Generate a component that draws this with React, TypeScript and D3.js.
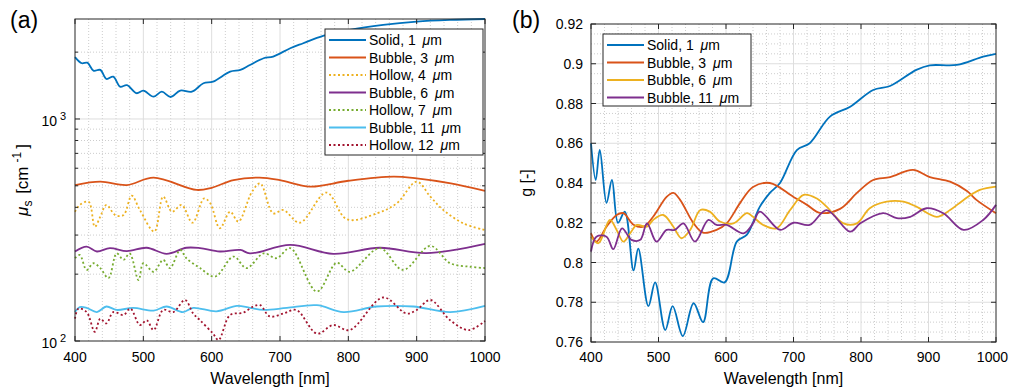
import React from 'react';
import * as d3 from 'd3';

type P = [number, number];

// ---------- data (panel a: scattering coefficient, cm^-1) ----------
const muSolid1: P[] = [[400,1900],[410,1782],[418,1793],[427,1651],[437,1663],[446,1514],[456,1551],[466,1398],[476,1419],[490,1306],[500,1342],[515,1260],[527,1327],[540,1256],[554,1342],[571,1327],[588,1448],[602,1472],[627,1633],[642,1663],[656,1751],[676,1877],[690,1909],[715,2083],[734,2193],[763,2365],[802,2518],[851,2651],[900,2743],[949,2792],[1000,2820]];
const muBubble3: P[] = [[400,504],[437,522],[476,504],[515,544],[578,479],[600,490],[632,531],[670,544],[700,530],[744,496],[800,527],[866,550],[900,540],[950,513],[1000,475]];
const muHollow4: P[] = [[400,382],[407,410],[420,424],[429,327],[437,363],[446,410],[459,369],[471,369],[483,451],[495,389],[516,311],[529,447],[542,382],[556,410],[572,341],[589,439],[598,417],[612,322],[627,382],[639,345],[659,470],[671,513],[690,376],[705,389],[729,341],[768,466],[798,353],[842,376],[871,417],[900,522],[920,447],[939,389],[968,339],[1000,316]];
const muBubble6: P[] = [[400,253],[417,266],[432,253],[451,262],[476,254],[505,263],[534,247],[563,263],[583,262],[612,253],[642,257],[656,248],[715,271],[778,247],[846,263],[914,249],[1000,274]];
const muHollow7: P[] = [[400,236],[407,244],[417,209],[427,224],[437,213],[449,192],[461,248],[471,232],[480,248],[493,188],[500,224],[515,205],[529,232],[539,213],[554,257],[563,236],[583,213],[605,195],[632,240],[651,213],[676,248],[695,236],[715,262],[754,167],[783,225],[802,205],[846,262],[880,209],[920,268],[949,224],[978,216],[1000,213]];
const muBubble11: P[] = [[400,135],[407,142],[417,141],[432,135],[446,143],[461,138],[485,141],[515,137],[534,143],[558,135],[573,141],[607,136],[637,144],[656,141],[676,138],[710,141],[754,145],[793,135],[841,143],[895,143],[949,135],[1000,144]];
const muHollow12: P[] = [[400,126],[405,140],[417,135],[429,110],[437,126],[446,120],[456,135],[471,131],[481,140],[495,118],[505,124],[515,112],[529,138],[544,135],[561,153],[573,133],[583,124],[602,108],[610,101],[627,131],[646,134],[661,143],[671,145],[685,129],[705,133],[724,138],[754,108],[778,118],[802,112],[851,157],[885,133],[900,138],[920,153],[949,124],[976,112],[1000,123]];

// ---------- data (panel b: anisotropy g) ----------
const gSolid1: P[] = [[400,0.86],[407,0.8415],[413,0.8566],[423,0.83],[431,0.8415],[440,0.82],[450,0.8256],[463,0.796],[470,0.807],[485,0.778],[495,0.79],[510,0.766],[521,0.778],[536,0.763],[552,0.7795],[566,0.77],[581,0.792],[598,0.79],[616,0.8105],[631,0.814],[650,0.828],[665,0.835],[680,0.84],[705,0.8566],[724,0.86],[754,0.8734],[784,0.8784],[818,0.8868],[843,0.8888],[882,0.8969],[902,0.8992],[942,0.8994],[981,0.9036],[1000,0.905]];
const gBubble3: P[] = [[400,0.8147],[408,0.8105],[423,0.818],[438,0.8239],[448,0.8248],[463,0.819],[478,0.818],[492,0.823],[512,0.833],[522,0.835],[532,0.8315],[552,0.8197],[566,0.815],[586,0.8164],[601,0.8197],[621,0.83],[640,0.838],[665,0.84],[700,0.833],[720,0.829],[739,0.825],[769,0.827],[794,0.835],[818,0.8415],[843,0.843],[877,0.8466],[902,0.843],[932,0.8407],[957,0.836],[971,0.8315],[1000,0.8248]];
const gBubble6: P[] = [[400,0.813],[411,0.8097],[428,0.8214],[438,0.8164],[448,0.8105],[458,0.8147],[468,0.8189],[483,0.818],[492,0.8214],[507,0.8239],[522,0.818],[534,0.8122],[547,0.8164],[562,0.8264],[576,0.8256],[591,0.8206],[611,0.8197],[631,0.8248],[640,0.823],[655,0.8189],[675,0.8172],[695,0.8264],[715,0.834],[734,0.8323],[749,0.8281],[774,0.8197],[794,0.8197],[813,0.8273],[838,0.8306],[863,0.8306],[882,0.8281],[912,0.823],[932,0.8264],[952,0.8315],[976,0.8365],[1000,0.8382]];
const gBubble11: P[] = [[400,0.8055],[408,0.813],[423,0.813],[433,0.8067],[446,0.8172],[460,0.8114],[473,0.8114],[483,0.8197],[497,0.8105],[512,0.8164],[524,0.8164],[537,0.8197],[554,0.8105],[574,0.8214],[586,0.8189],[601,0.8189],[626,0.8147],[640,0.8197],[650,0.8256],[680,0.8164],[700,0.82],[724,0.8189],[749,0.8264],[784,0.8155],[799,0.8197],[833,0.8248],[853,0.8223],[873,0.823],[897,0.8273],[922,0.8248],[952,0.8164],[981,0.8214],[1000,0.829]];

const wlMajor = [400, 500, 600, 700, 800, 900, 1000];
const muMajor = [100, 1000];
const muMajorExp = ['2', '3'];
const muMinor = [200, 300, 400, 500, 600, 700, 800, 900, 2000];
const gMajor = [0.76, 0.78, 0.8, 0.82, 0.84, 0.86, 0.88, 0.9, 0.92];
const gMajorLabels = ['0.76', '0.78', '0.8', '0.82', '0.84', '0.86', '0.88', '0.9', '0.92'];

const COL = {
  blue: '#0072BD', orange: '#D95319', yellow: '#EDB120', purple: '#7E2F8E',
  green: '#77AC30', cyan: '#4DBEEE', red: '#A2142F',
};

type Series = { name: string; num: string; data: P[]; color: string; dotted: boolean };

const seriesA: Series[] = [
  { name: 'Solid', num: '1', data: muSolid1, color: COL.blue, dotted: false },
  { name: 'Bubble', num: '3', data: muBubble3, color: COL.orange, dotted: false },
  { name: 'Hollow', num: '4', data: muHollow4, color: COL.yellow, dotted: true },
  { name: 'Bubble', num: '6', data: muBubble6, color: COL.purple, dotted: false },
  { name: 'Hollow', num: '7', data: muHollow7, color: COL.green, dotted: true },
  { name: 'Bubble', num: '11', data: muBubble11, color: COL.cyan, dotted: false },
  { name: 'Hollow', num: '12', data: muHollow12, color: COL.red, dotted: true },
];
const seriesB: Series[] = [
  { name: 'Solid', num: '1', data: gSolid1, color: COL.blue, dotted: false },
  { name: 'Bubble', num: '3', data: gBubble3, color: COL.orange, dotted: false },
  { name: 'Bubble', num: '6', data: gBubble6, color: COL.yellow, dotted: false },
  { name: 'Bubble', num: '11', data: gBubble11, color: COL.purple, dotted: false },
];

const FONT = '"Liberation Sans", Arial, Helvetica, sans-serif';
const AX = '#262626';
const MAJ_GRID = '#dedede';
const MIN_GRID = '#cdcdcd';
const SVG_W = 1009;

const wlMinor = d3.range(420, 1000, 20).filter((v) => v % 100 !== 0);

function LegendBox({ items, x, y, w, h, rowH }: { items: Series[]; x: number; y: number; w: number; h: number; rowH: number }) {
  return (
    <g>
      <rect x={x} y={y} width={w} height={h} fill="#fff" stroke={AX} strokeWidth={1} />
      {items.map((s, i) => {
        const cy = y + 11 + i * rowH;
        return (
          <g key={i}>
            <line x1={x + 4} x2={x + 41} y1={cy} y2={cy} stroke={s.color} strokeWidth={2}
              strokeDasharray={s.dotted ? '2,2.5' : undefined} />
            <text x={x + 44} y={cy} dy="0.36em" fontSize={14} fill="#000" fontFamily={FONT} style={{ whiteSpace: 'pre' }}>
              {`${s.name}, ${s.num} `}
              <tspan dx={3} fontStyle="italic">μ</tspan>m
            </text>
          </g>
        );
      })}
    </g>
  );
}

function PanelA() {
  const L = 75, R = 485, T = 19, B = 341;
  const x = d3.scaleLinear().domain([400, 1000]).range([L, R]);
  const y = d3.scaleLog().domain([100, 2820]).range([B, T]);
  const line = d3.line<P>().x((d) => x(d[0])).y((d) => y(d[1])).curve(d3.curveCatmullRom.alpha(0.5));
  return (
    <g>
      {wlMinor.map((v) => (
        <line key={'xm' + v} x1={x(v)} x2={x(v)} y1={T} y2={B} stroke={MIN_GRID} strokeWidth={1} strokeDasharray="1,2" />
      ))}
      {muMinor.map((v) => (
        <line key={'ym' + v} x1={L} x2={R} y1={y(v)} y2={y(v)} stroke={MIN_GRID} strokeWidth={1} strokeDasharray="1,2" />
      ))}
      {wlMajor.slice(1, -1).map((v) => (
        <line key={'xg' + v} x1={x(v)} x2={x(v)} y1={T} y2={B} stroke={MAJ_GRID} strokeWidth={1} />
      ))}
      <line x1={L} x2={R} y1={y(1000)} y2={y(1000)} stroke={MAJ_GRID} strokeWidth={1} />
      {seriesA.map((s, i) => (
        <path key={i} d={line(s.data) || ''} fill="none" stroke={s.color} strokeWidth={1.8}
          strokeDasharray={s.dotted ? '2,2.5' : undefined} />
      ))}
      <rect x={L} y={T} width={R - L} height={B - T} fill="none" stroke={AX} strokeWidth={1} />
      {wlMajor.map((v) => (
        <g key={'xt' + v}>
          <line x1={x(v)} x2={x(v)} y1={B} y2={B - 5} stroke={AX} />
          <line x1={x(v)} x2={x(v)} y1={T} y2={T + 5} stroke={AX} />
          <text x={x(v)} y={B + 21} textAnchor="middle" fontSize={14} fontFamily={FONT} fill="#000">{v}</text>
        </g>
      ))}
      {muMinor.map((v) => (
        <g key={'ymt' + v}>
          <line x1={L} x2={L + 3} y1={y(v)} y2={y(v)} stroke={AX} />
          <line x1={R} x2={R - 3} y1={y(v)} y2={y(v)} stroke={AX} />
        </g>
      ))}
      {muMajor.map((v, i) => (
        <g key={'yt' + v}>
          <line x1={L} x2={L + 5} y1={y(v)} y2={y(v)} stroke={AX} />
          <line x1={R} x2={R - 5} y1={y(v)} y2={y(v)} stroke={AX} />
          <text x={L - 18} y={y(v) + 7} textAnchor="end" fontSize={14} fontFamily={FONT} fill="#000">10</text>
          <text x={L - 9} y={y(v) + 7} dy={-6} textAnchor="end" fontSize={11} fontFamily={FONT} fill="#000">{muMajorExp[i]}</text>
        </g>
      ))}
      <text x={(L + R) / 2 - 10} y={384} textAnchor="middle" fontSize={16} fontFamily={FONT} fill="#000">Wavelength [nm]</text>
      <text transform={`translate(28,${(T + B) / 2}) rotate(-90)`} textAnchor="middle" fontSize={17} fontFamily={FONT} fill="#000" style={{ whiteSpace: 'pre' }}>
        <tspan fontStyle="italic">μ</tspan>
        <tspan fontSize={12} dy={4}>s</tspan>
        <tspan dy={-4} dx={2}> [cm</tspan>
        <tspan fontSize={12} dy={-7} dx={4}>-1</tspan>
        <tspan dy={7} dx={3}>]</tspan>
      </text>
      <text x={10} y={28} fontSize={23} fontFamily={FONT} fill="#000">(a)</text>
      <LegendBox items={seriesA} x={325} y={29} w={158} h={126} rowH={17.5} />
    </g>
  );
}

function PanelB() {
  const L = 591, R = 996, T = 24, B = 342;
  const x = d3.scaleLinear().domain([400, 1000]).range([L, R]);
  const y = d3.scaleLinear().domain([0.76, 0.92]).range([B, T]);
  const gMinor = d3.range(0, 33).map((i) => 0.76 + i * 0.005).filter((_, i) => i % 4 !== 0);
  const line = d3.line<P>().x((d) => x(d[0])).y((d) => y(d[1])).curve(d3.curveCatmullRom.alpha(0.5));
  return (
    <g>
      {wlMinor.map((v) => (
        <line key={'xm' + v} x1={x(v)} x2={x(v)} y1={T} y2={B} stroke={MIN_GRID} strokeWidth={1} strokeDasharray="1,2" />
      ))}
      {gMinor.map((v, i) => (
        <line key={'ym' + i} x1={L} x2={R} y1={y(v)} y2={y(v)} stroke={MIN_GRID} strokeWidth={1} strokeDasharray="1,2" />
      ))}
      {wlMajor.slice(1, -1).map((v) => (
        <line key={'xg' + v} x1={x(v)} x2={x(v)} y1={T} y2={B} stroke={MAJ_GRID} strokeWidth={1} />
      ))}
      {gMajor.slice(1, -1).map((v) => (
        <line key={'yg' + v} x1={L} x2={R} y1={y(v)} y2={y(v)} stroke={MAJ_GRID} strokeWidth={1} />
      ))}
      {seriesB.map((s, i) => (
        <path key={i} d={line(s.data) || ''} fill="none" stroke={s.color} strokeWidth={1.8} />
      ))}
      <rect x={L} y={T} width={R - L} height={B - T} fill="none" stroke={AX} strokeWidth={1} />
      {wlMajor.map((v, i) => {
        const last = i === wlMajor.length - 1;
        return (
          <g key={'xt' + v}>
            <line x1={x(v)} x2={x(v)} y1={B} y2={B - 5} stroke={AX} />
            <line x1={x(v)} x2={x(v)} y1={T} y2={T + 5} stroke={AX} />
            <text x={last ? SVG_W - 1 : x(v)} y={B + 20} textAnchor={last ? 'end' : 'middle'} fontSize={14} fontFamily={FONT} fill="#000">{v}</text>
          </g>
        );
      })}
      {gMajor.map((v, i) => (
        <g key={'yt' + i}>
          <line x1={L} x2={L + 5} y1={y(v)} y2={y(v)} stroke={AX} />
          <line x1={R} x2={R - 5} y1={y(v)} y2={y(v)} stroke={AX} />
          <text x={L - 8} y={y(v)} dy="0.36em" textAnchor="end" fontSize={14} fontFamily={FONT} fill="#000">{gMajorLabels[i]}</text>
        </g>
      ))}
      <text x={(L + R) / 2 - 10} y={384} textAnchor="middle" fontSize={16} fontFamily={FONT} fill="#000">Wavelength [nm]</text>
      <text transform={`translate(532,${(T + B) / 2}) rotate(-90)`} textAnchor="middle" fontSize={16} fontFamily={FONT} fill="#000">g [-]</text>
      <text x={512} y={28} fontSize={23} fontFamily={FONT} fill="#000">(b)</text>
      <LegendBox items={seriesB} x={603} y={34} w={148} h={72} rowH={17.5} />
    </g>
  );
}

export default function App() {
  return (
    <svg width={SVG_W} height={389} viewBox={`0 0 ${SVG_W} 389`}
      style={{ position: 'absolute', left: 0, top: 0, background: '#fff' }}>
      <rect x={0} y={0} width={SVG_W} height={389} fill="#fff" />
      <PanelA />
      <PanelB />
    </svg>
  );
}
